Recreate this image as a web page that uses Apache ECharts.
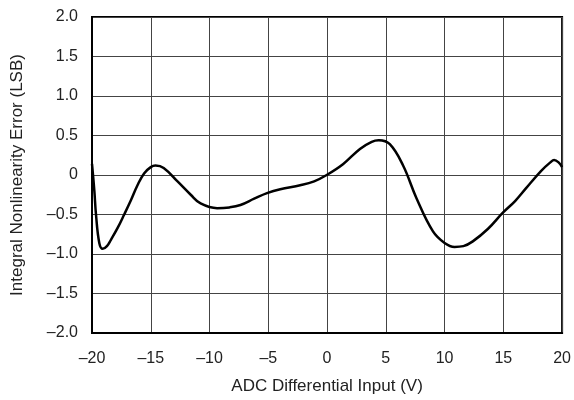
<!DOCTYPE html>
<html><head><meta charset="utf-8">
<script src="https://cdn.jsdelivr.net/npm/echarts@6/dist/echarts.min.js"></script>
<style>html,body{margin:0;padding:0;background:#fff}#c{width:574px;height:400px}</style>
</head><body><div id="c"></div>
<script>
const xValues = [-20, -19.8, -19.66, -19.38, -19.09, -18.73, -18.39, -17.82, -17.26, -16.69, -16.13, -15.57, -15.0, -14.6, -13.9, -12.7, -11.6, -10.76, -9.35, -8.3, -7.37, -6.2, -5.11, -3.98, -2.29, -1.1, -0.03, 1.38, 2.8, 3.8, 4.4, 5.34, 6.47, 7.6, 9.0, 10.0, 10.85, 11.6, 12.4, 13.7, 14.94, 16.0, 16.92, 18.2, 19.0, 19.32, 19.7, 20];
const yValues = [0.14, -0.2, -0.5, -0.86, -0.935, -0.9, -0.82, -0.67, -0.5, -0.32, -0.13, 0.02, 0.10, 0.12, 0.09, -0.085, -0.25, -0.36, -0.42, -0.41, -0.38, -0.3, -0.23, -0.18, -0.13, -0.08, 0.0, 0.14, 0.33, 0.42, 0.44, 0.39, 0.12, -0.29, -0.71, -0.86, -0.91, -0.9, -0.84, -0.68, -0.48, -0.33, -0.17, 0.05, 0.16, 0.19, 0.16, 0.10];
const xTicks = [-20, -15, -10, -5, 0, 5, 10, 15, 20];
const yTicks = [-2.0, -1.5, -1.0, -0.5, 0, 0.5, 1.0, 1.5, 2.0];

const fmtY = v => v === 0 ? '0' : (v < 0 ? '\u2013' : '') + Math.abs(v).toFixed(1);
const fmtX = v => (v < 0 ? '\u2013' : '') + Math.abs(v);
const font = 'Liberation Sans';
const chart = echarts.init(document.getElementById('c'), null, {renderer: 'canvas'});
chart.setOption({
  animation: false,
  backgroundColor: '#fff',
  grid: {left: 92, right: 10, top: 17, bottom: 64, show: true, borderColor: '#000', borderWidth: 2},
  xAxis: {
    type: 'value', min: xTicks[0], max: xTicks[xTicks.length - 1], interval: 5,
    name: 'ADC Differential Input (V)', nameLocation: 'middle', nameGap: 45,
    nameTextStyle: {fontFamily: font, fontSize: 17, color: '#222'},
    axisLine: {show: true, onZero: false, lineStyle: {color: '#000', width: 2}},
    axisTick: {show: false},
    axisLabel: {formatter: fmtX, fontFamily: font, fontSize: 16, color: '#222', margin: 18},
    splitLine: {show: true, lineStyle: {color: '#444', width: 1}}
  },
  yAxis: {
    type: 'value', min: yTicks[0], max: yTicks[yTicks.length - 1], interval: 0.5,
    name: 'Integral Nonlinearity Error (LSB)', nameLocation: 'middle', nameGap: 66,
    nameTextStyle: {fontFamily: font, fontSize: 17, color: '#222'},
    axisLine: {show: true, onZero: false, lineStyle: {color: '#000', width: 2}},
    axisTick: {show: false},
    axisLabel: {formatter: fmtY, fontFamily: font, fontSize: 16, color: '#222', margin: 14},
    splitLine: {show: true, lineStyle: {color: '#444', width: 1}}
  },
  series: [{
    type: 'line', smooth: 0.4, symbol: 'none',
    lineStyle: {color: '#000', width: 2.5},
    data: xValues.map((x, i) => [x, yValues[i]])
  }]
});
</script></body></html>
